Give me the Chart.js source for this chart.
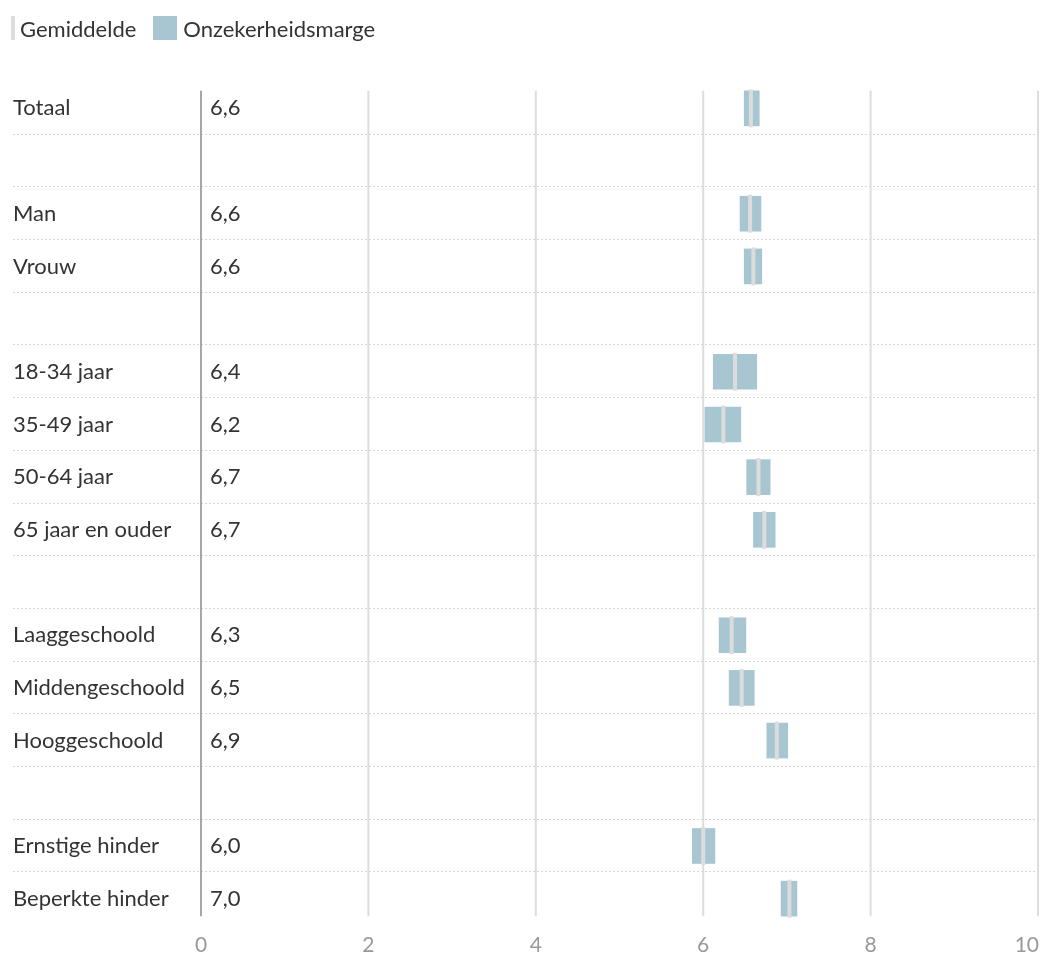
<!DOCTYPE html>
<html lang="nl">
<head>
<meta charset="utf-8">
<title>Gemiddelde en onzekerheidsmarge</title>
<script src="https://cdn.jsdelivr.net/npm/chart.js@4.4.1/dist/chart.umd.min.js"></script>
<style>
    body {
        margin: 0;
        background: #fff;
        font-family: Lato, "Open Sans", sans-serif;
        overflow: hidden;
    }
    #wrap {
        position: relative;
        width: 1042px;
        height: 956px;
    }
    #chart {
        display: block;
    }
    #legend {
        position: absolute;
        left: 0;
        top: 16px;
        height: 24px;
        display: flex;
        align-items: center;
        font-size: 22px;
        color: #333;
    }
    .mark-mean {
        display: inline-block;
        width: 4px;
        height: 24px;
        background: #dcdcdc;
        margin-left: 11px;
        margin-right: 5px;
    }
    .mark-margin {
        display: inline-block;
        width: 24px;
        height: 24px;
        background: #a8c6d1;
        margin-left: 17px;
        margin-right: 6px;
    }
</style>
</head>
<body>
<div id="wrap">
    <div id="legend">
        <span class="mark-mean"></span><span>Gemiddelde</span>
        <span class="mark-margin"></span><span>Onzekerheidsmarge</span>
    </div>
    <canvas id="chart" width="1042" height="956"></canvas>
</div>

<script>
// Gegevens (lege rijen = scheiding tussen groepen)
const categories = ['Totaal', '', 'Man', 'Vrouw', '', '18-34 jaar', '35-49 jaar', '50-64 jaar',
    '65 jaar en ouder', '', 'Laaggeschoold', 'Middengeschoold', 'Hooggeschoold', '',
    'Ernstige hinder', 'Beperkte hinder'];
const means = [6.57, null, 6.56, 6.60, null, 6.38, 6.24, 6.66, 6.73, null, 6.34, 6.46, 6.88, null, 6.00, 7.03];
const lows  = [6.49, null, 6.44, 6.49, null, 6.12, 6.02, 6.52, 6.60, null, 6.19, 6.31, 6.76, null, 5.87, 6.93];
const highs = [6.67, null, 6.69, 6.70, null, 6.64, 6.45, 6.80, 6.86, null, 6.51, 6.61, 7.01, null, 6.14, 7.12];
const xTicks = [0, 2, 4, 6, 8, 10];

const FONT = 'Lato, "Open Sans", sans-serif';
const BAR_H = 35;

// Onzekerheidsmarge als zwevende staaf [laag, hoog]
const marginData = lows.map((lo, i) => (lo === null ? null : [lo, highs[i]]));

// Rasterlijnen, scheidingslijnen, waarden en x-labels zelf tekenen
const extraDraw = {
    id: 'extraDraw',
    beforeDatasetsDraw(chart) {
        const c = chart.ctx;
        const x = chart.scales.x;
        const y = chart.scales.y;
        const area = chart.chartArea;
        const top = y.getPixelForValue(0) - BAR_H / 2;
        const bottom = y.getPixelForValue(categories.length - 1) + BAR_H / 2;

        c.save();
        // stippellijnen tussen de rijen
        c.strokeStyle = '#d6d6d6';
        c.lineWidth = 1;
        c.setLineDash([2, 2]);
        for (let i = 0; i < categories.length - 1; i++) {
            const yy = Math.round((y.getPixelForValue(i) + y.getPixelForValue(i + 1)) / 2) - 1 + 0.5;
            c.beginPath();
            c.moveTo(13, yy);
            c.lineTo(area.right, yy);
            c.stroke();
        }
        c.setLineDash([]);

        // verticale rasterlijnen
        xTicks.forEach(t => {
            const xx = x.getPixelForValue(t);
            c.strokeStyle = t === 0 ? '#a6a6a6' : '#dddddd';
            c.lineWidth = 2;
            c.beginPath();
            c.moveTo(xx, top);
            c.lineTo(xx, bottom);
            c.stroke();
        });

        // x-as labels
        c.font = '21px ' + FONT;
        c.fillStyle = '#999';
        c.textBaseline = 'middle';
        xTicks.forEach((t, i) => {
            const last = i === xTicks.length - 1;
            c.textAlign = last ? 'right' : 'center';
            c.fillText(String(t), x.getPixelForValue(t) + (last ? 1 : 0), 945);
        });

        // gemiddelde als tekst naast de as
        c.font = '22px ' + FONT;
        c.fillStyle = '#333';
        c.textAlign = 'left';
        means.forEach((m, i) => {
            if (m === null) return;
            c.fillText(m.toFixed(1).replace('.', ','), area.left + 9, y.getPixelForValue(i));
        });
        c.restore();
    }
};

const ctx = document.getElementById('chart').getContext('2d');

new Chart(ctx, {
    type: 'bar',
    data: {
        labels: categories,
        datasets: [{
            label: 'Gemiddelde',
            type: 'line',
            data: means,
            showLine: false,
            pointStyle: 'line',
            rotation: 90,
            radius: 19,
            hoverRadius: 19,
            borderWidth: 4,
            borderColor: '#dcdcdc',
            backgroundColor: '#dcdcdc',
            order: 0
        }, {
            label: 'Onzekerheidsmarge',
            data: marginData,
            backgroundColor: '#a8c6d1',
            borderWidth: 0,
            borderSkipped: false,
            barThickness: BAR_H,
            order: 1
        }]
    },
    options: {
        indexAxis: 'y',
        responsive: false,
        animation: false,
        layout: {
            autoPadding: false,
            padding: { top: 82, left: 13, right: 4, bottom: 0 }
        },
        scales: {
            x: {
                min: 0,
                max: 10,
                grid: { display: false },
                border: { display: false },
                ticks: { display: false },
                afterFit: (scale) => { scale.height = 31; }
            },
            y: {
                offset: true,
                grid: { display: false },
                border: { display: false },
                ticks: {
                    crossAlign: 'far',
                    color: '#333',
                    font: { family: FONT, size: 22 },
                    padding: 0
                },
                afterFit: (scale) => { scale.width = 188; }
            }
        },
        plugins: {
            legend: { display: false },
            tooltip: { enabled: false }
        }
    },
    plugins: [extraDraw]
});
</script>
</body>
</html>
